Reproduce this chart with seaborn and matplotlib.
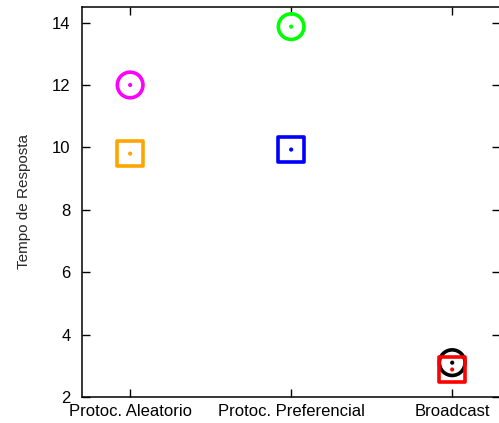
import matplotlib
matplotlib.use("Agg")
import matplotlib.pyplot as plt
import seaborn as sns
import pandas as pd

categories = ["Protoc. Aleatorio", "Protoc. Preferencial", "Broadcast"]
circle_values = [12.0, 13.87, 3.1]
circle_colors = ["#ff00ff", "#00ff00", "#000000"]
square_values = [9.8, 9.93, 2.88]
square_colors = ["#ffa500", "#0000ff", "#ff0000"]

sns.set_style("ticks")
plt.rcParams['font.family'] = ['Liberation Sans', 'DejaVu Sans']

fig = plt.figure(figsize=(4.99, 4.23), dpi=100)
# right spine sits just past the picture edge, as in the reference
ax = fig.add_axes([0.164, 0.0615, 0.839, 0.922])

circles = pd.DataFrame({"cat": categories, "val": circle_values, "col": circle_colors})
squares = pd.DataFrame({"cat": categories, "val": square_values, "col": square_colors})

for df, mk in [(circles, "o"), (squares, "s")]:
    pal = dict(zip(df["col"], df["col"]))
    sns.scatterplot(data=df, x="cat", y="val", hue="col", palette=pal,
                    marker=mk, s=340, linewidth=2.6, legend=False, ax=ax)
    ax.collections[-1].set_facecolor("none")
    ax.collections[-1].set_edgecolor(df["col"].tolist())
    # small dot in the centre of each point
    sns.scatterplot(data=df, x="cat", y="val", hue="col", palette=pal,
                    marker="o", s=9, linewidth=0, legend=False, ax=ax)

ax.set_xlim(-0.3, 2.3)
ax.set_ylim(2, 14.5)
ax.set_yticks([2, 4, 6, 8, 10, 12, 14])
ax.set_xlabel("")
ax.set_ylabel("Tempo de Resposta", fontsize=11, labelpad=15)
ax.tick_params(direction="in", length=6, width=1, top=True, right=True,
               labelsize=12, colors="black")
ax.tick_params(axis="x", pad=5)
ax.tick_params(axis="y", pad=8)
for s in ax.spines.values():
    s.set_visible(True)
    s.set_linewidth(1.1)
    s.set_color("black")

fig.savefig("out.png", dpi=100)
